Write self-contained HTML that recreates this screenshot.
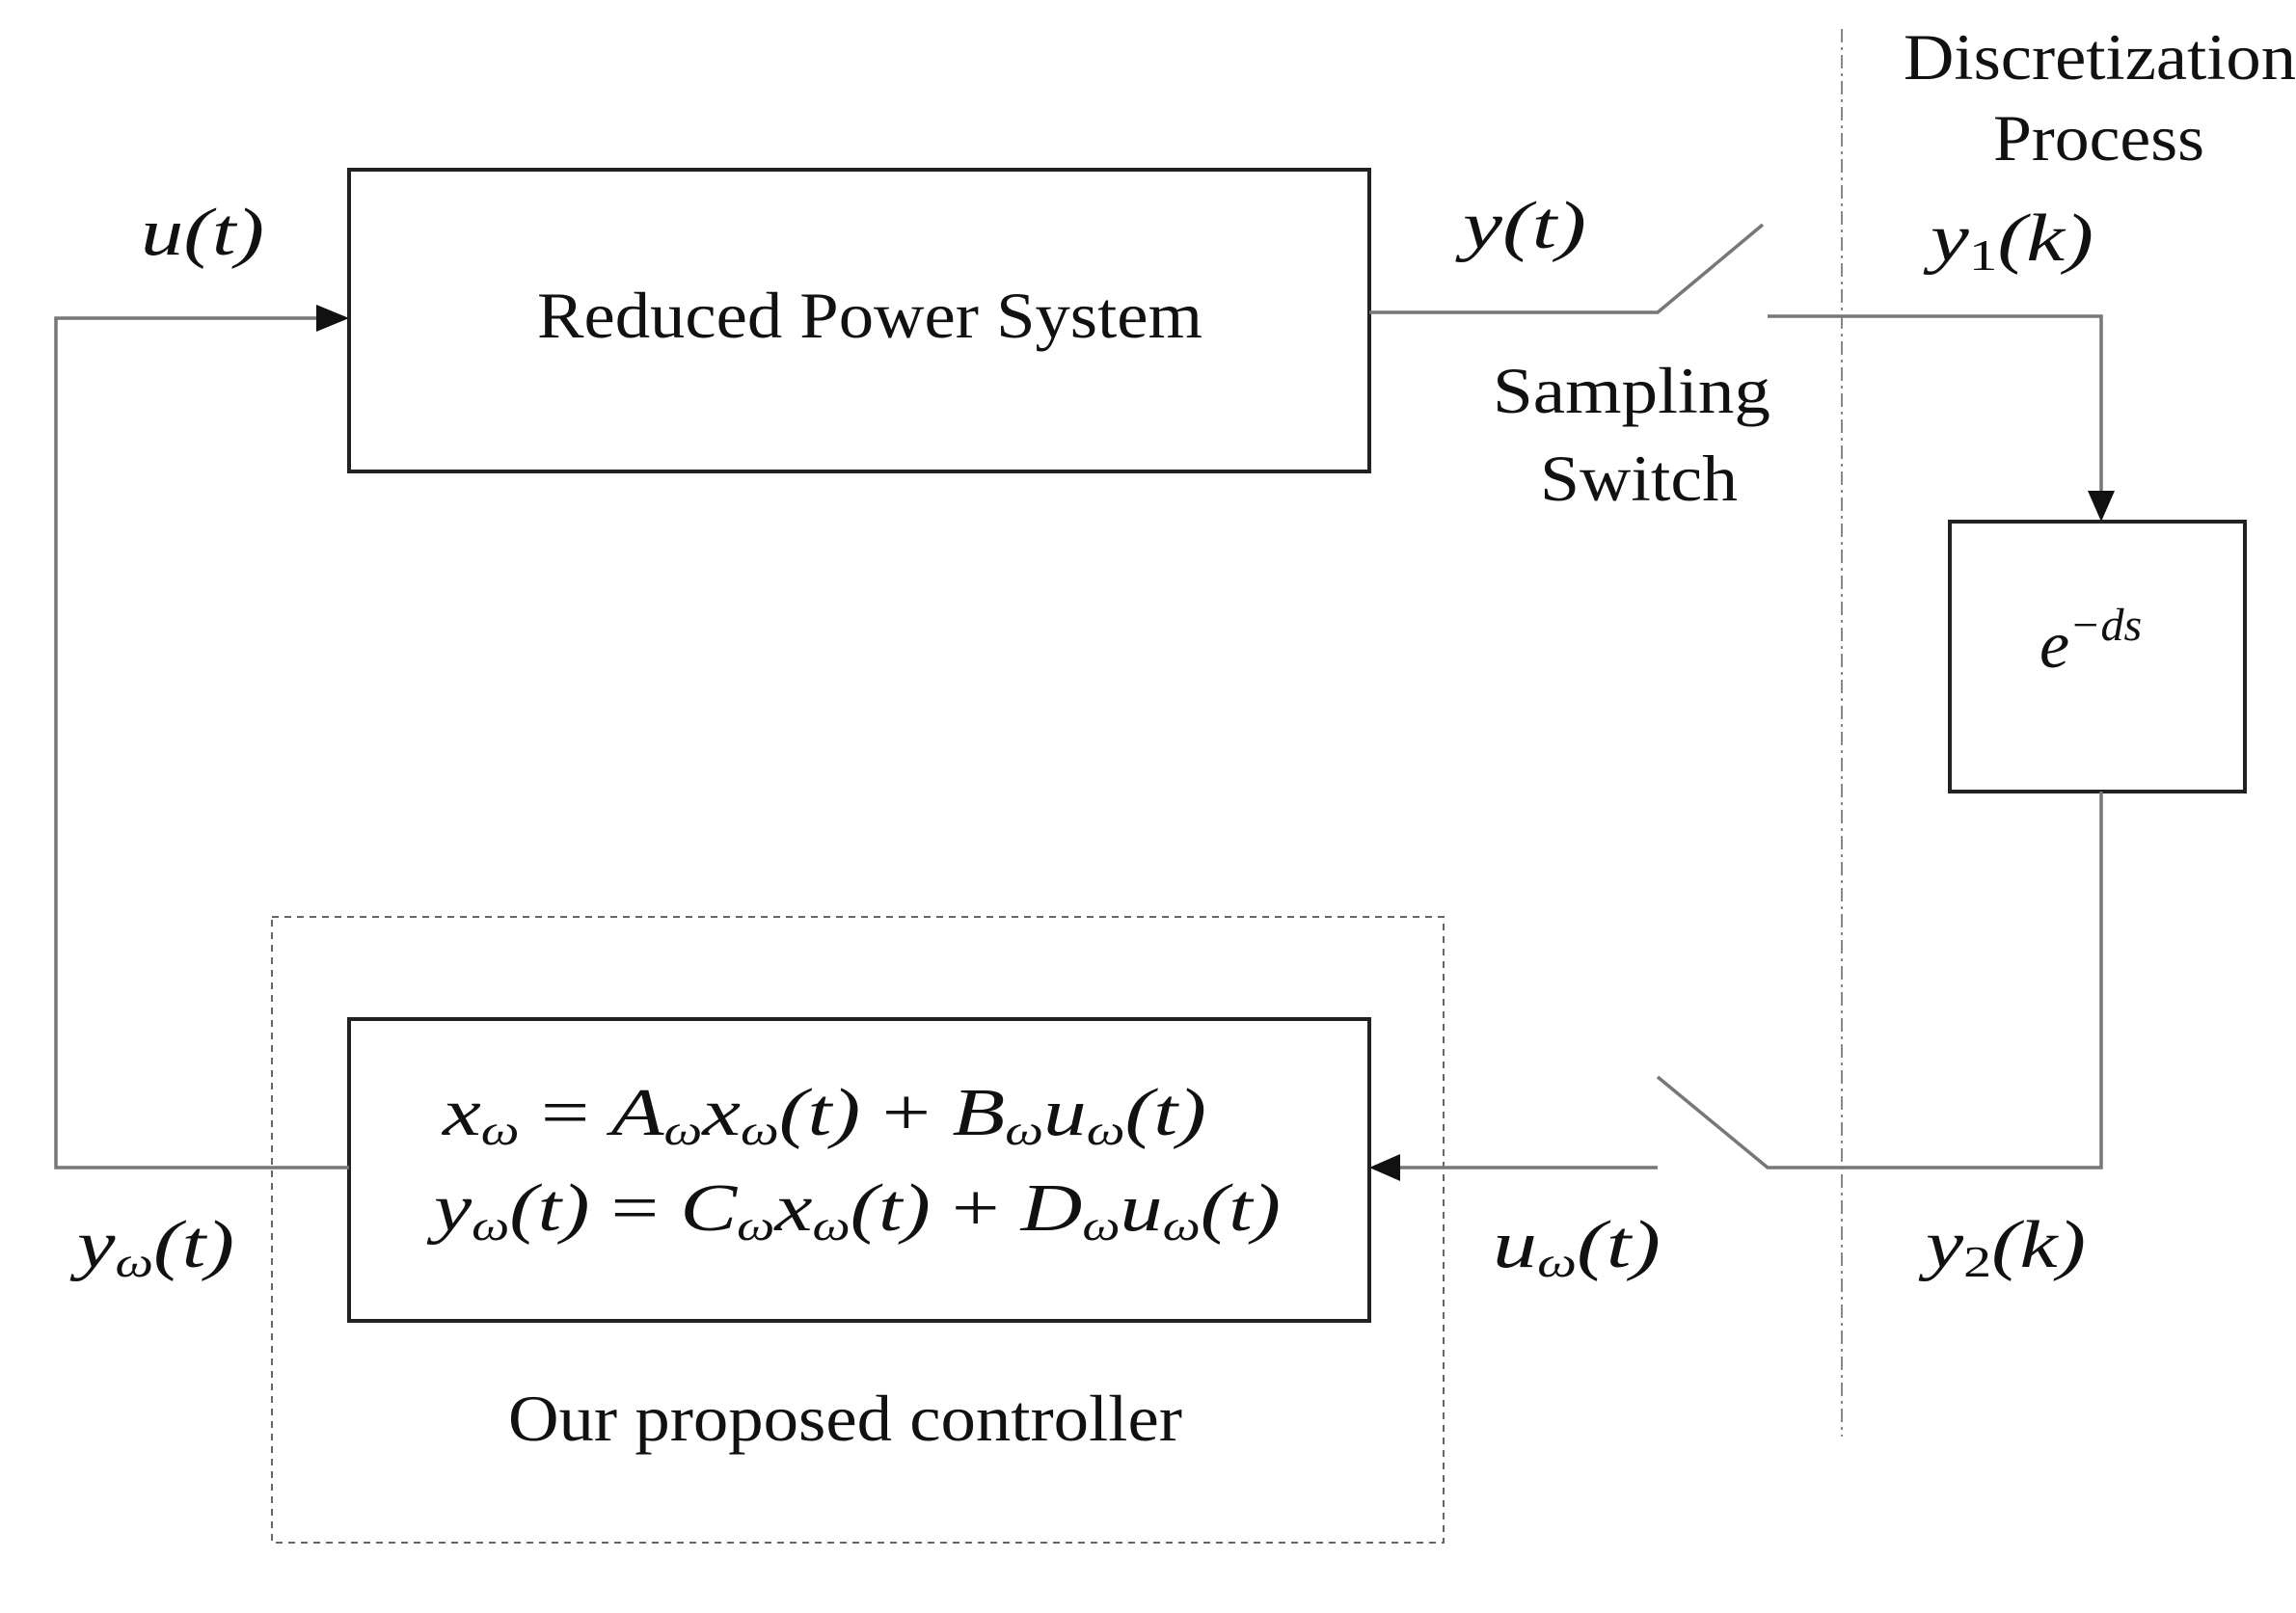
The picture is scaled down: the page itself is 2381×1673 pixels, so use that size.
<!DOCTYPE html>
<html><head><meta charset="utf-8"><style>
html,body{margin:0;padding:0;background:#fff;}
svg{display:block;}
text{font-family:"Liberation Serif","DejaVu Serif",serif;fill:#111;}
.m{font-style:italic;}
</style></head><body>
<svg width="2381" height="1673" viewBox="0 0 2381 1673" xmlns="http://www.w3.org/2000/svg">
<rect x="362" y="176" width="1058" height="313" fill="none" stroke="#222" stroke-width="4"/>
<rect x="362" y="1057" width="1058" height="313" fill="none" stroke="#222" stroke-width="4"/>
<rect x="2022" y="541" width="306" height="280" fill="none" stroke="#222" stroke-width="4"/>
<rect x="282" y="951" width="1215" height="649" fill="none" stroke="#666" stroke-width="2" stroke-dasharray="7,6"/>
<line x1="1910" y1="30" x2="1910" y2="1490" stroke="#888" stroke-width="2" stroke-dasharray="14,5,3,5"/>
<g stroke="#777" stroke-width="3.5" fill="none">
<polyline points="362,1211 58,1211 58,330 330,330"/>
<polyline points="1420,324 1719,324 1828,233"/>
<polyline points="1833,328 2179,328 2179,510"/>
<polyline points="2179,821 2179,1211 1833,1211 1719,1117"/>
<line x1="1719" y1="1211" x2="1450" y2="1211"/>
</g>
<polygon points="362,330 328,316 328,344" fill="#111"/>
<polygon points="2179,541 2165,509 2193,509" fill="#111"/>
<polygon points="1420,1211 1452,1197 1452,1225" fill="#111"/>
<text x="146" y="264" font-size="70" class="m" textLength="128" lengthAdjust="spacingAndGlyphs">u(t)</text>
<text x="557" y="350" font-size="68" textLength="690" lengthAdjust="spacingAndGlyphs">Reduced Power System</text>
<text x="1517" y="257" font-size="70" class="m" textLength="128" lengthAdjust="spacingAndGlyphs">y(t)</text>
<text x="1548" y="428" font-size="68" textLength="288" lengthAdjust="spacingAndGlyphs">Sampling</text>
<text x="1597" y="519" font-size="68" textLength="205" lengthAdjust="spacingAndGlyphs">Switch</text>
<text x="1974" y="82" font-size="68" textLength="407" lengthAdjust="spacingAndGlyphs">Discretization</text>
<text x="2067" y="166" font-size="68" textLength="219" lengthAdjust="spacingAndGlyphs">Process</text>
<text x="2002" y="270" font-size="70" class="m" textLength="169" lengthAdjust="spacingAndGlyphs">y<tspan font-size="46" dy="10" font-style="normal">1</tspan><tspan dy="-10">(k)</tspan></text>
<text x="2115" y="692" font-size="70" class="m">e<tspan font-size="48" dy="-28">−ds</tspan></text>
<text x="459" y="1177" font-size="70" class="m" textLength="792" lengthAdjust="spacingAndGlyphs">x<tspan font-size="44" dy="10">ω</tspan><tspan dy="-10" font-style="normal"> = </tspan>A<tspan font-size="44" dy="10">ω</tspan><tspan dy="-10">x</tspan><tspan font-size="44" dy="10">ω</tspan><tspan dy="-10">(t) </tspan><tspan font-style="normal">+</tspan> B<tspan font-size="44" dy="10">ω</tspan><tspan dy="-10">u</tspan><tspan font-size="44" dy="10">ω</tspan><tspan dy="-10">(t)</tspan></text>
<text x="450" y="1276" font-size="70" class="m" textLength="878" lengthAdjust="spacingAndGlyphs">y<tspan font-size="44" dy="10">ω</tspan><tspan dy="-10">(t)</tspan><tspan font-style="normal"> = </tspan>C<tspan font-size="44" dy="10">ω</tspan><tspan dy="-10">x</tspan><tspan font-size="44" dy="10">ω</tspan><tspan dy="-10">(t) </tspan><tspan font-style="normal">+</tspan> D<tspan font-size="44" dy="10">ω</tspan><tspan dy="-10">u</tspan><tspan font-size="44" dy="10">ω</tspan><tspan dy="-10">(t)</tspan></text>
<text x="80" y="1314" font-size="70" class="m" textLength="163" lengthAdjust="spacingAndGlyphs">y<tspan font-size="44" dy="10">ω</tspan><tspan dy="-10">(t)</tspan></text>
<text x="1548" y="1314" font-size="70" class="m" textLength="174" lengthAdjust="spacingAndGlyphs">u<tspan font-size="44" dy="10">ω</tspan><tspan dy="-10">(t)</tspan></text>
<text x="1997" y="1314" font-size="70" class="m" textLength="166" lengthAdjust="spacingAndGlyphs">y<tspan font-size="46" dy="10" font-style="normal">2</tspan><tspan dy="-10">(k)</tspan></text>
<text x="527" y="1494" font-size="68" textLength="699" lengthAdjust="spacingAndGlyphs">Our proposed controller</text>
</svg>
</body></html>
